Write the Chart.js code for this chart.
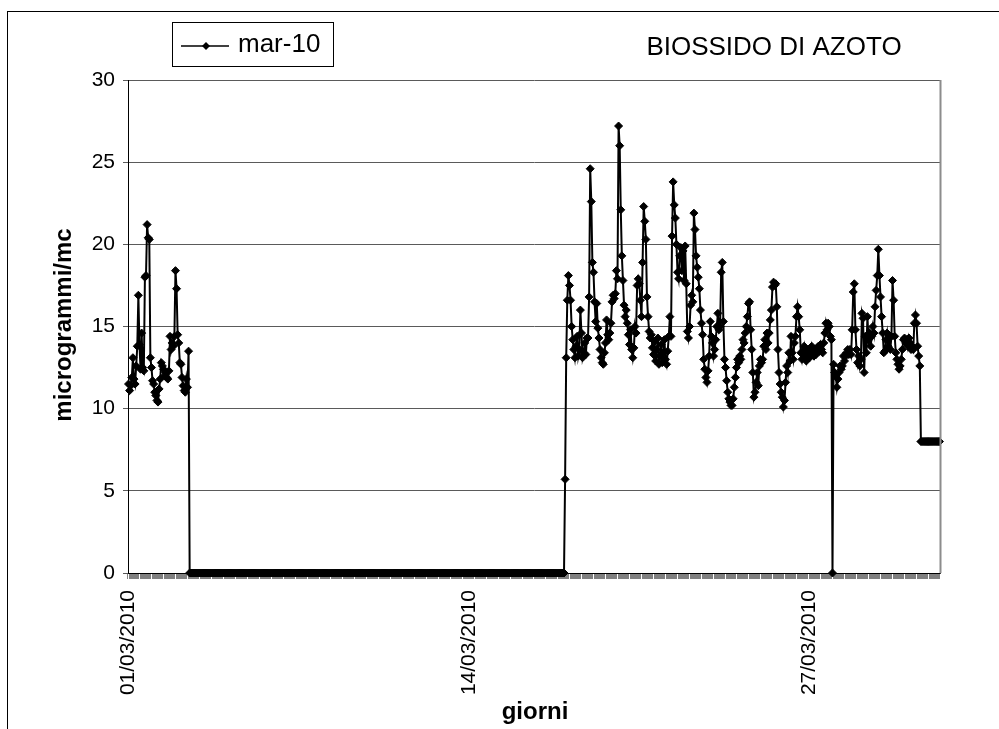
<!DOCTYPE html>
<html><head><meta charset="utf-8">
<script src="https://cdn.jsdelivr.net/npm/chart.js"></script>
<style>html,body{margin:0;padding:0;background:#fff}#wrap{width:999px;height:729px}</style>
</head><body><div id="wrap"><canvas id="c" width="999" height="729"></canvas></div>
<script>
const seriesName = 'mar-10';
const chartTitle = 'BIOSSIDO DI AZOTO';
const yTitle = 'microgrammi/mc';
const xTitle = 'giorni';
const tickLabels = ['01/03/2010', '14/03/2010', '27/03/2010'];
const tickHours = [0, 312, 624];

// hourly values, 01/03 00:00 .. 03/03 07:00
const firstDays = [
  11.5, 11.1, 11.4, 11.9, 13.1, 11.8, 11.5, 12.6, 13.8, 16.9,
  13.9, 12.4, 14.6, 12.5, 12.3, 18.0, 18.1, 21.2, 20.4, 20.3,
  13.1, 12.5, 11.7, 11.5, 11.0, 10.8, 10.5, 10.4, 11.2, 11.8,
  12.8, 12.6, 12.4, 12.0, 12.2, 11.9, 11.8, 12.3, 14.4, 13.6,
  14.0, 13.8, 14.4, 18.4, 17.3, 14.5, 14.0, 12.8, 12.7, 11.9,
  11.4, 11.1, 11.0, 11.8, 11.3, 13.5
];
// hours with value 0
const gapZeros = [
  0,0,0,0,0,0,0,0,0,0,0,0,0,0,0,0,0,0,0,0,
  0,0,0,0,0,0,0,0,0,0,0,0,0,0,0,0,0,0,0,0,
  0,0,0,0,0,0,0,0,0,0,0,0,0,0,0,0,0,0,0,0,
  0,0,0,0,0,0,0,0,0,0,0,0,0,0,0,0,0,0,0,0,
  0,0,0,0,0,0,0,0,0,0,0,0,0,0,0,0,0,0,0,0,
  0,0,0,0,0,0,0,0,0,0,0,0,0,0,0,0,0,0,0,0,
  0,0,0,0,0,0,0,0,0,0,0,0,0,0,0,0,0,0,0,0,
  0,0,0,0,0,0,0,0,0,0,0,0,0,0,0,0,0,0,0,0,
  0,0,0,0,0,0,0,0,0,0,0,0,0,0,0,0,0,0,0,0,
  0,0,0,0,0,0,0,0,0,0,0,0,0,0,0,0,0,0,0,0,
  0,0,0,0,0,0,0,0,0,0,0,0,0,0,0,0,0,0,0,0,
  0,0,0,0,0,0,0,0,0,0,0,0,0,0,0,0,0,0,0,0,
  0,0,0,0,0,0,0,0,0,0,0,0,0,0,0,0,0,0,0,0,
  0,0,0,0,0,0,0,0,0,0,0,0,0,0,0,0,0,0,0,0,
  0,0,0,0,0,0,0,0,0,0,0,0,0,0,0,0,0,0,0,0,
  0,0,0,0,0,0,0,0,0,0,0,0,0,0,0,0,0,0,0,0,
  0,0,0,0,0,0,0,0,0,0,0,0,0,0,0,0,0,0,0,0,
  0,0,0,0
];
// hourly values from 17/03 16:00
const midMonth = [
  5.7,
  13.1, 16.6, 18.1, 17.5, 16.6, 15.0, 14.2, 13.6, 13.1, 13.8,
  14.4, 13.2, 13.6, 16.0, 14.6, 13.1, 13.4, 14.0, 13.3, 14.3,
  14.3, 16.8, 24.6, 22.6, 18.9, 18.3, 16.5, 15.3, 16.4, 14.9,
  14.3, 13.6, 13.1, 12.8, 12.7, 13.4, 14.0, 15.4, 14.5, 14.2,
  14.6, 15.2, 16.5, 16.9, 16.7, 17.0, 18.4, 17.9, 27.2, 26.0,
  22.1, 19.3, 17.8, 16.3, 15.6, 16.0, 15.2, 14.5, 13.9, 14.8,
  13.6, 13.1, 13.7, 15.0, 14.6, 17.5, 17.9, 17.6, 16.6, 15.6,
  18.9, 22.3, 21.4, 20.3, 16.8, 15.6, 14.7, 14.3, 14.5, 13.7,
  13.3, 14.1, 12.9, 13.6, 14.3, 12.7, 13.2, 13.9, 12.8, 13.4,
  14.2, 13.0, 12.7, 13.5, 14.4, 15.6, 14.4, 20.5, 23.8, 22.4,
  21.6, 20.0, 18.3, 17.9, 19.3, 19.8, 18.4, 19.6, 17.8, 19.9,
  17.6, 14.7, 14.3, 15.0, 16.3, 16.9, 16.5, 21.9, 20.9, 19.3,
  18.6, 18.0, 17.3, 16.0, 15.2, 14.5, 13.0, 12.4, 11.9, 11.6,
  12.3, 13.2, 15.3, 14.4, 14.0, 13.2, 13.6, 14.2, 15.0, 15.8,
  14.8, 15.0, 18.3, 18.9, 15.3, 13.0, 12.5, 11.7, 11.0, 10.6,
  10.4, 10.2, 10.2, 10.6, 11.3, 11.9, 12.5, 13.0, 12.8, 13.2,
  13.0, 13.6, 14.2, 14.0, 14.6, 15.0, 15.6, 16.4, 16.5, 14.8,
  13.6, 12.2, 10.7, 11.0, 11.6, 12.2, 11.4, 12.6, 13.0, 12.8,
  13.0, 13.8, 14.2, 13.6, 14.6, 14.0, 14.6, 15.4, 16.0, 17.4,
  17.7, 17.5, 17.6, 16.2, 13.6, 12.2, 11.5, 11.0, 10.7, 10.1,
  10.5, 11.6, 12.6, 12.2, 13.4, 12.9, 14.4, 13.4, 13.0, 14.0,
  14.4, 15.6, 16.2, 15.6, 14.8, 13.4, 13.0, 13.5, 13.8, 13.2,
  12.9, 13.4, 13.6, 13.1, 13.3, 13.8, 13.5, 13.2, 13.6, 13.3,
  13.6, 13.8, 13.5, 13.9, 13.6, 13.4, 14.0, 14.6, 15.2, 14.8,
  15.2, 15.0, 14.4, 14.2, 0, 12.7, 12.2, 12.0, 11.3, 11.8,
  12.2, 12.6, 12.4, 12.6, 13.2, 12.9, 13.2, 13.4, 13.6, 13.3,
  13.6, 13.3, 14.8, 17.1, 17.6, 14.8, 13.6, 12.8, 13.2, 12.6,
  13.0, 15.8, 15.5, 12.2, 14.4, 13.4, 15.6, 14.2, 14.6, 13.8,
  14.4, 15.0, 14.6, 16.2, 17.2, 18.1, 19.7, 18.1, 16.8, 15.6,
  14.6, 13.4, 13.5, 14.2, 14.6, 13.8, 14.4, 13.6, 14.4, 17.8,
  16.6, 14.4, 13.4, 13.0, 12.7, 12.4, 12.6, 13.0, 13.6, 14.2,
  14.3, 14.0, 14.2, 13.8, 14.3, 14.0, 13.6, 13.8, 13.6, 15.2,
  15.7, 15.2, 13.8, 13.2, 12.6
];
// last hours of the month
const lastHours = [8.0, 8.0, 8.0, 8.0, 8.0, 8.0, 8.0, 8.0, 8.0, 8.0, 8.0, 8.0, 8.0, 8.0, 8.0, 8.0, 8.0, 8.0];

const values = firstDays.concat(gapZeros, midMonth, lastHours);
const categories = [];
for (let d = 1; d <= 31; d++) {
  for (let h = 0; h < 24; h++) {
    categories.push(String(d).padStart(2, '0') + '/03/2010 ' + String(h).padStart(2, '0') + ':00');
  }
}

const FONT = 'Liberation Sans, Arial, sans-serif';

const decor = {
  id: 'decor',
  beforeDraw(chart) {
    const ctx = chart.ctx;
    ctx.save();
    ctx.fillStyle = '#fff';
    ctx.fillRect(0, 0, chart.width, chart.height);
    ctx.restore();
  },
  afterDraw(chart) {
    const ctx = chart.ctx;
    const a = chart.chartArea;
    ctx.save();
    // outer frame
    ctx.strokeStyle = '#000';
    ctx.lineWidth = 1;
    ctx.strokeRect(7.5, 11.5, 1200, 1200);
    // plot area right border
    ctx.strokeStyle = '#8c8c8c';
    ctx.lineWidth = 2;
    ctx.beginPath();
    ctx.moveTo(a.right + 0.5, a.top);
    ctx.lineTo(a.right + 0.5, a.bottom);
    ctx.stroke();
    // legend
    ctx.fillStyle = '#fff';
    ctx.fillRect(172, 22, 161, 44);
    ctx.strokeStyle = '#000';
    ctx.lineWidth = 1;
    ctx.strokeRect(172.5, 22.5, 161, 44);
    ctx.lineWidth = 1.5;
    ctx.beginPath();
    ctx.moveTo(181, 46);
    ctx.lineTo(229, 46);
    ctx.stroke();
    ctx.fillStyle = '#000';
    ctx.beginPath();
    ctx.moveTo(206, 42); ctx.lineTo(210, 46); ctx.lineTo(206, 50); ctx.lineTo(202, 46);
    ctx.closePath();
    ctx.fill();
    ctx.font = '26px ' + FONT;
    ctx.textAlign = 'left';
    ctx.textBaseline = 'middle';
    ctx.fillText(chart.data.datasets[0].label, 238, 45);
    // title
    ctx.textAlign = 'center';
    ctx.fillText(chartTitle, 774, 48);
    // axis titles
    ctx.font = 'bold 24px ' + FONT;
    ctx.fillText(xTitle, 535, 712);
    ctx.translate(64, 325);
    ctx.rotate(-Math.PI / 2);
    ctx.fillText(yTitle, 0, 0);
    ctx.restore();
  }
};

new Chart(document.getElementById('c'), {
  type: 'line',
  data: {
    labels: categories,
    datasets: [{
      label: seriesName,
      data: values,
      borderColor: '#000',
      backgroundColor: '#000',
      borderWidth: 2,
      pointStyle: 'rectRot',
      pointRadius: 4,
      pointBorderWidth: 1,
      pointBackgroundColor: '#000',
      pointBorderColor: '#000',
      tension: 0,
      fill: false,
      clip: false
    }]
  },
  options: {
    responsive: false,
    animation: false,
    devicePixelRatio: 1,
    layout: { padding: { top: 80, right: 59, left: 0, bottom: 0 } },
    plugins: { legend: { display: false }, tooltip: { enabled: false } },
    scales: {
      x: {
        type: 'category',
        offset: true,
        grid: { offset: true, drawOnChartArea: false, drawTicks: true, tickLength: 6, color: '#000', lineWidth: 0.5 },
        border: { color: '#000', width: 1 },
        ticks: {
          autoSkip: false, maxRotation: 90, minRotation: 90, padding: 11, color: '#000',
          font: { family: FONT, size: 21 },
          callback: function (v, i) { const k = tickHours.indexOf(i); return k >= 0 ? tickLabels[k] : ''; }
        },
        afterFit: function (s) { s.height = 156; }
      },
      y: {
        min: 0, max: 30,
        ticks: { stepSize: 5, color: '#000', padding: 8, font: { family: FONT, size: 21 } },
        grid: { color: '#5a5a5a', tickLength: 5, drawTicks: true },
        border: { color: '#000', width: 1 },
        afterFit: function (s) { s.width = 128; }
      }
    }
  },
  plugins: [decor]
});
</script>
</body></html>
